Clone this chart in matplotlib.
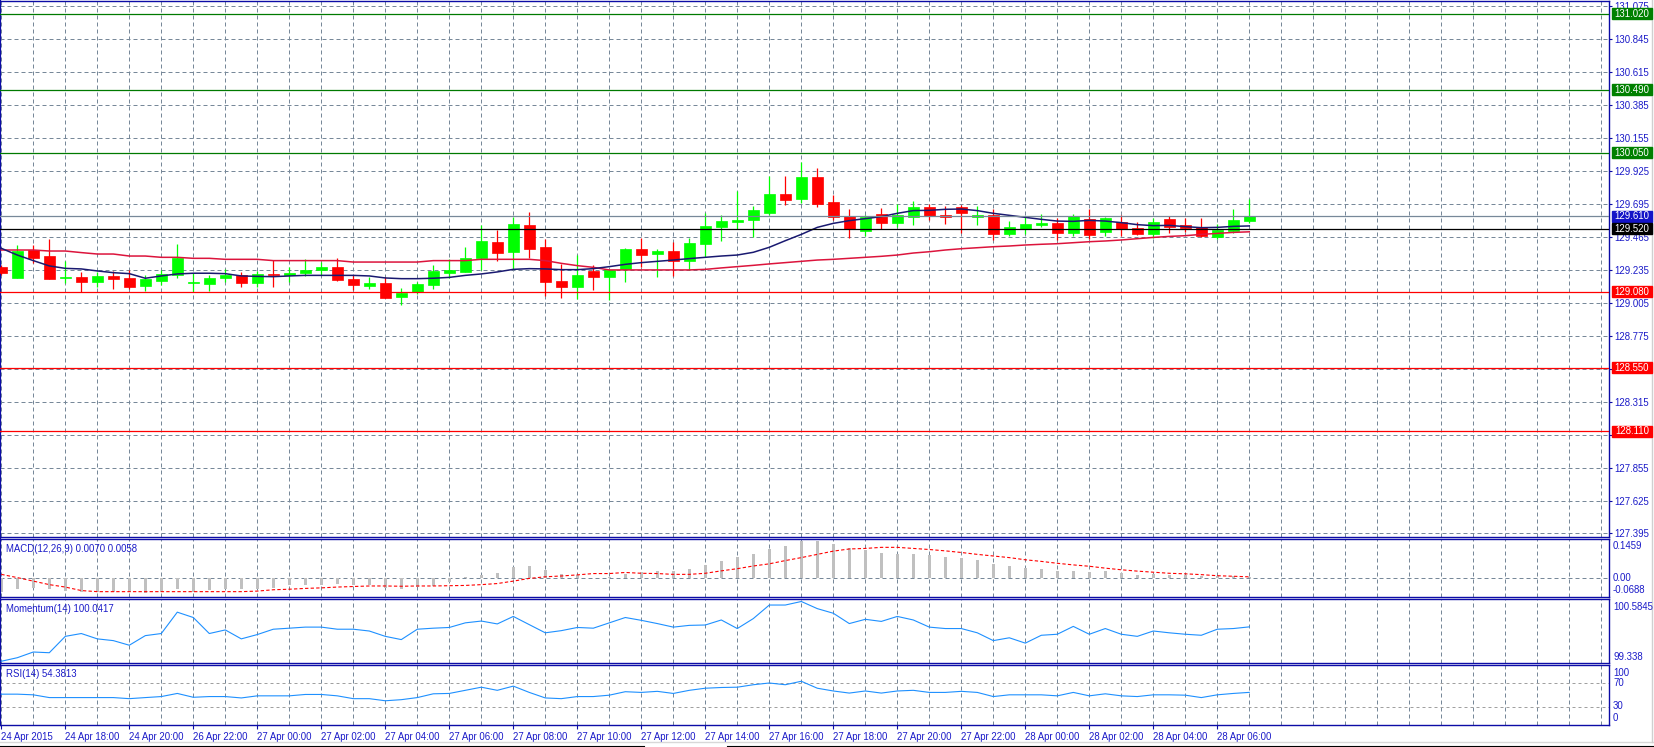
import numpy as np
import matplotlib
matplotlib.use("Agg")
from matplotlib import pyplot as plt
from matplotlib.patches import Rectangle
from matplotlib.lines import Line2D

W, H = 1654, 747

# USDJPY M30, 24 Apr 2015 16:00 .. 28 Apr 2015 07:00
opens = [129.254, 129.180, 129.371, 129.331, 129.180, 129.185, 129.152, 129.192, 129.180, 129.124,
         129.159, 129.199, 129.145, 129.138, 129.180, 129.196, 129.145, 129.206, 129.199, 129.215,
         129.236, 129.255, 129.171, 129.124, 129.143, 129.048, 129.078, 129.129, 129.215, 129.222,
         129.317, 129.429, 129.362, 129.548, 129.394, 129.157, 129.117, 129.227, 129.187, 129.241,
         129.380, 129.348, 129.366, 129.299, 129.417, 129.536, 129.571, 129.585, 129.634, 129.764,
         129.729, 129.883, 129.708, 129.611, 129.508, 129.624, 129.561, 129.606, 129.673, 129.617,
         129.673, 129.606, 129.617, 129.485, 129.517, 129.548, 129.562, 129.492, 129.589, 129.501,
         129.568, 129.527, 129.485, 129.589, 129.548, 129.534, 129.461, 129.508, 129.577]
highs = [129.268, 129.408, 129.408, 129.450, 129.296, 129.222, 129.222, 129.227, 129.234, 129.196,
         129.234, 129.415, 129.215, 129.196, 129.238, 129.222, 129.229, 129.301, 129.252, 129.310,
         129.290, 129.317, 129.199, 129.187, 129.182, 129.110, 129.152, 129.268, 129.308, 129.394,
         129.545, 129.513, 129.606, 129.638, 129.452, 129.278, 129.336, 129.266, 129.231, 129.385,
         129.457, 129.380, 129.429, 129.457, 129.629, 129.615, 129.787, 129.682, 129.889, 129.889,
         129.990, 129.945, 129.757, 129.659, 129.617, 129.666, 129.694, 129.715, 129.694, 129.680,
         129.685, 129.680, 129.659, 129.576, 129.611, 129.624, 129.594, 129.624, 129.659, 129.606,
         129.617, 129.568, 129.594, 129.611, 129.594, 129.597, 129.555, 129.659, 129.726]
lows = [129.199, 129.175, 129.280, 129.168, 129.141, 129.078, 129.117, 129.099, 129.103, 129.089,
        129.126, 129.180, 129.078, 129.089, 129.148, 129.113, 129.113, 129.117, 129.148, 129.194,
        129.199, 129.159, 129.094, 129.103, 129.036, 128.992, 129.066, 129.103, 129.175, 129.222,
        129.234, 129.299, 129.238, 129.315, 129.055, 129.041, 129.034, 129.096, 129.027, 129.152,
        129.252, 129.187, 129.194, 129.234, 129.327, 129.438, 129.520, 129.462, 129.620, 129.689,
        129.703, 129.673, 129.582, 129.459, 129.471, 129.517, 129.531, 129.548, 129.582, 129.555,
        129.489, 129.545, 129.443, 129.471, 129.485, 129.534, 129.443, 129.471, 129.447, 129.471,
        129.471, 129.480, 129.459, 129.494, 129.501, 129.466, 129.447, 129.494, 129.559]
closes = [129.215, 129.366, 129.320, 129.173, 129.185, 129.152, 129.192, 129.171, 129.117, 129.168,
          129.206, 129.320, 129.150, 129.178, 129.199, 129.145, 129.206, 129.199, 129.213, 129.234,
          129.255, 129.166, 129.131, 129.143, 129.041, 129.073, 129.136, 129.227, 129.234, 129.317,
          129.436, 129.355, 129.557, 129.380, 129.152, 129.117, 129.199, 129.187, 129.231, 129.380,
          129.341, 129.366, 129.299, 129.422, 129.541, 129.575, 129.583, 129.652, 129.764, 129.724,
          129.883, 129.694, 129.606, 129.520, 129.604, 129.564, 129.617, 129.673, 129.613, 129.606,
          129.634, 129.617, 129.485, 129.534, 129.555, 129.562, 129.492, 129.608, 129.478, 129.597,
          129.520, 129.485, 129.568, 129.534, 129.527, 129.471, 129.512, 129.583, 129.610]

ma_fast = [129.385, 129.338, 129.299, 129.262, 129.245, 129.241, 129.227, 129.215, 129.208, 129.176,
           129.192, 129.206, 129.211, 129.211, 129.208, 129.192, 129.189, 129.187, 129.192, 129.196,
           129.196, 129.196, 129.196, 129.192, 129.178, 129.173, 129.173, 129.176, 129.182, 129.196,
           129.206, 129.220, 129.238, 129.243, 129.241, 129.236, 129.236, 129.243, 129.257, 129.273,
           129.285, 129.294, 129.303, 129.313, 129.322, 129.331, 129.338, 129.357, 129.392, 129.438,
           129.482, 129.531, 129.559, 129.578, 129.592, 129.606, 129.629, 129.648, 129.650, 129.657,
           129.659, 129.648, 129.629, 129.615, 129.601, 129.587, 129.575, 129.573, 129.580, 129.575,
           129.564, 129.550, 129.543, 129.545, 129.536, 129.529, 129.531, 129.538, 129.541]
ma_slow = [129.373, 129.373, 129.373, 129.366, 129.366, 129.355, 129.345, 129.345, 129.331, 129.331,
           129.322, 129.322, 129.315, 129.315, 129.308, 129.308, 129.308, 129.299, 129.299, 129.299,
           129.299, 129.299, 129.289, 129.289, 129.289, 129.289, 129.289, 129.299, 129.299, 129.299,
           129.308, 129.308, 129.308, 129.308, 129.299, 129.280, 129.264, 129.252, 129.234, 129.234,
           129.234, 129.234, 129.234, 129.234, 129.238, 129.248, 129.257, 129.266, 129.276, 129.285,
           129.294, 129.303, 129.308, 129.315, 129.322, 129.329, 129.338, 129.352, 129.361, 129.373,
           129.382, 129.389, 129.396, 129.401, 129.408, 129.413, 129.417, 129.424, 129.431, 129.436,
           129.443, 129.452, 129.461, 129.468, 129.473, 129.482, 129.489, 129.496, 129.500]

macd_main = [-0.051, -0.041, -0.036, -0.041, -0.046, -0.049, -0.051, -0.051, -0.051, -0.054,
             -0.051, -0.038, -0.049, -0.042, -0.038, -0.038, -0.038, -0.035, -0.026, -0.023,
             -0.026, -0.019, -0.026, -0.023, -0.036, -0.041, -0.032, -0.028, -0.012, 0.004,
             0.013, 0.019, 0.043, 0.047, 0.032, 0.017, 0.013, 0.003, 0.006, 0.017,
             0.023, 0.028, 0.028, 0.036, 0.051, 0.066, 0.078, 0.089, 0.109, 0.120,
             0.139, 0.139, 0.128, 0.112, 0.106, 0.093, 0.089, 0.089, 0.086, 0.078,
             0.074, 0.070, 0.055, 0.047, 0.040, 0.036, 0.028, 0.028, 0.023, 0.026,
             0.019, 0.014, 0.018, 0.014, 0.014, 0.010, 0.009, 0.008, 0.0070]
macd_signal = [0.015, 0.003, -0.010, -0.023, -0.032, -0.045, -0.049, -0.049, -0.049, -0.049,
               -0.049, -0.049, -0.049, -0.049, -0.049, -0.049, -0.047, -0.042, -0.040, -0.037,
               -0.035, -0.032, -0.030, -0.028, -0.028, -0.029, -0.028, -0.028, -0.027, -0.026,
               -0.023, -0.019, -0.010, 0.000, 0.006, 0.009, 0.013, 0.018, 0.018, 0.022,
               0.019, 0.018, 0.015, 0.015, 0.019, 0.028, 0.036, 0.046, 0.054, 0.066,
               0.077, 0.089, 0.101, 0.109, 0.111, 0.115, 0.115, 0.111, 0.107, 0.102,
               0.096, 0.089, 0.083, 0.077, 0.069, 0.063, 0.056, 0.050, 0.045, 0.038,
               0.032, 0.027, 0.023, 0.019, 0.017, 0.014, 0.010, 0.008, 0.0058]
momentum = [99.372, 99.441, 99.552, 99.538, 99.857, 99.912, 99.808, 99.774, 99.684, 99.871,
            99.912, 100.328, 100.224, 99.912, 99.982, 99.808, 99.892, 99.996, 100.016, 100.037,
            100.037, 99.996, 99.996, 99.961, 99.857, 99.794, 99.996, 100.016, 100.030, 100.120,
            100.155, 100.099, 100.245, 100.085, 99.926, 99.968, 100.030, 100.016, 100.120, 100.224,
            100.169, 100.106, 100.037, 100.071, 100.078, 100.176, 100.009, 100.203, 100.467, 100.467,
            100.536, 100.397, 100.307, 100.106, 100.189, 100.148, 100.245, 100.176, 100.037, 100.009,
            100.009, 99.926, 99.774, 99.829, 99.725, 99.878, 99.898, 100.051, 99.898, 100.009,
            99.898, 99.857, 99.961, 99.926, 99.898, 99.878, 99.996, 100.009, 100.0417]
rsi = [51.4, 51.4, 50.3, 45.7, 45.7, 45.7, 45.7, 45.7, 43.9, 45.7,
       47.4, 52.6, 46.2, 47.4, 47.4, 45.1, 48.6, 48.6, 48.6, 50.9,
       50.9, 48.6, 43.9, 43.9, 40.4, 42.2, 45.7, 52.0, 52.6, 57.8,
       63.0, 57.8, 64.8, 54.3, 45.1, 43.9, 47.4, 47.4, 49.7, 55.5,
       54.3, 56.1, 52.6, 57.8, 61.3, 62.5, 63.0, 67.1, 70.0, 67.1,
       72.9, 61.3, 56.7, 53.2, 56.7, 53.2, 56.7, 57.8, 54.3, 54.3,
       56.1, 54.3, 47.4, 50.3, 50.3, 50.3, 48.6, 54.3, 48.6, 52.0,
       48.6, 47.4, 50.3, 50.3, 49.7, 45.7, 50.3, 52.6, 54.3813]

level_values = [131.020, 130.490, 130.050, 129.610, 129.520, 129.080, 128.550, 128.110]
level_kinds = ["res", "res", "res", "bid", "pivot", "sup", "sup", "sup"]

price_ticks = [127.395, 127.625, 127.855, 128.085, 128.315, 128.545, 128.775, 129.005, 129.235,
               129.465, 129.695, 129.925, 130.155, 130.385, 130.615, 130.845, 131.075]
price_range = (127.3703, 131.1107)
macd_range = (-0.0688, 0.1459)
momentum_range = (99.338, 100.5845)

time_ticks = [0, 4, 8, 12, 16, 20, 24, 28, 32, 36, 40, 44, 48, 52, 56, 60, 64, 68, 72, 76]
time_labels = ["24 Apr 2015", "24 Apr 18:00", "24 Apr 20:00", "26 Apr 22:00", "27 Apr 00:00",
               "27 Apr 02:00", "27 Apr 04:00", "27 Apr 06:00", "27 Apr 08:00", "27 Apr 10:00",
               "27 Apr 12:00", "27 Apr 14:00", "27 Apr 16:00", "27 Apr 18:00", "27 Apr 20:00",
               "27 Apr 22:00", "28 Apr 00:00", "28 Apr 02:00", "28 Apr 04:00", "28 Apr 06:00"]

# colours
BORDER = "#0C0CA6"
TEXT = "#1A1AC8"
GRID = "#778899"
LEVEL_LINE = {"res": "#007A00", "bid": "#778899", "pivot": "#000000", "sup": "#FF0000"}
LEVEL_BOX = {"res": "#008000", "bid": "#1414C8", "pivot": "#000000", "sup": "#FF0000"}

plt.rcParams["font.family"] = ["Liberation Sans", "DejaVu Sans"]
plt.rcParams["font.size"] = 6.9

fig = plt.figure(figsize=(W / 100, H / 100), dpi=100)
fig.patch.set_facecolor("white")


def rect(x0, y0, x1, y1):
    return [x0 / W, 1 - y1 / H, (x1 - x0) / W, (y1 - y0) / H]


def ptext(x, y, s, **kw):
    kw.setdefault("color", TEXT)
    fig.text(x / W, 1 - y / H, s, **kw)


def setup_pane(ax, ylim):
    ax.set_xlim(-1.3 / 16, (1609 - 1.3) / 16)
    ax.set_ylim(*ylim)
    for sp in ax.spines.values():
        sp.set_color(BORDER)
        sp.set_linewidth(1.0)
    ax.spines["left"].set_linewidth(1.6)
    ax.tick_params(bottom=False, labelbottom=False, left=False, labelleft=False)
    for gx in range(0, 101, 2):
        ax.axvline(gx, color=GRID, lw=0.72, ls=(0, (4, 3)), zorder=0)


ax_main = fig.add_axes(rect(0, 1, 1609, 537))
ax_macd = fig.add_axes(rect(0, 539, 1609, 597))
ax_mom = fig.add_axes(rect(0, 599, 1609, 663))
ax_rsi = fig.add_axes(rect(0, 665, 1609, 725))

for a, yl in [(ax_main, price_range), (ax_macd, macd_range), (ax_mom, momentum_range), (ax_rsi, (0, 100))]:
    setup_pane(a, yl)

# ---- main price pane
x = np.arange(len(opens))
o = np.array(opens)
c = np.array(closes)
candle_colors = np.where(c >= o, "#00FF00", "#FF0000")

for py in price_ticks:
    ax_main.axhline(py, color=GRID, lw=0.72, ls=(0, (4, 3)), zorder=0)

ax_main.vlines(x, lows, highs, colors=candle_colors, lw=0.9, zorder=2)
ax_main.bar(x, np.abs(c - o), bottom=np.minimum(o, c), width=0.69,
            color=candle_colors, edgecolor=candle_colors, linewidth=0.5, zorder=3)

ax_main.plot(x, ma_slow, color="#DC143C", lw=1.1, zorder=4)
ax_main.plot(x, ma_fast, color="#191970", lw=1.1, zorder=4)

for v, k in zip(level_values, level_kinds):
    ax_main.axhline(v, color=LEVEL_LINE[k], lw=0.9, zorder=5)

# price labels hidden under a level box are left blank, as on the terminal
tick_text = []
for p in price_ticks:
    covered = any(abs(p - v) < 0.03 and v < 129.5 for v in level_values)
    tick_text.append("" if covered else f"{p:.3f}")

ax_main.yaxis.tick_right()
ax_main.tick_params(right=True, labelright=True, direction="out", length=2.5,
                    color=BORDER, labelcolor=TEXT, pad=1.5)
ax_main.set_yticks(price_ticks)
ax_main.set_yticklabels(tick_text)

fig.canvas.draw()
for v, k in zip(level_values, level_kinds):
    yd = ax_main.transData.transform((0, v))[1]
    fig.patches.append(Rectangle((1612 / W, (yd - 5.5) / H), 40 / W, 11 / H,
                                 transform=fig.transFigure, color=LEVEL_BOX[k], zorder=10))
    fig.text(1632 / W, yd / H, f"{v:.3f}", ha="center", va="center",
             color="white", zorder=11)

# ---- MACD pane
ax_macd.axhline(0, color=GRID, lw=0.72, ls=(0, (4, 3)), zorder=0)
ax_macd.bar(x, macd_main, width=0.17, color="#C0C0C0", zorder=2)
ax_macd.plot(x, macd_signal, color="#FF0000", lw=0.8, ls=(0, (3, 2)), zorder=3)
ptext(6, 548.7, f"MACD(12,26,9) {macd_main[-1]:.4f} {macd_signal[-1]:.4f}", ha="left", va="center")
ptext(1613, 546, "0.1459", ha="left", va="center")
ptext(1613, 578.3, "0.00", ha="left", va="center")
ptext(1613, 590, "-0.0688", ha="left", va="center")

# ---- Momentum pane
ax_mom.plot(x, momentum, color="#1E90FF", lw=0.8, zorder=3)
ptext(6, 608.7, f"Momentum(14) {momentum[-1]:.4f}", ha="left", va="center")
ptext(1613, 606.7, "100.5845", ha="left", va="center")
ptext(1613, 656.7, "99.338", ha="left", va="center")

# ---- RSI pane
for lv in (70, 30):
    ax_rsi.axhline(lv, color="#A0A0A0", lw=0.72, ls=(0, (3, 3)), zorder=0)
ax_rsi.plot(x, rsi, color="#1E90FF", lw=0.8, zorder=3)
ptext(6, 674.3, f"RSI(14) {rsi[-1]:.4f}", ha="left", va="center")
for s, yy in [("100", 672.7), ("70", 683.3), ("30", 706), ("0", 718.3)]:
    ptext(1613, yy, s, ha="left", va="center")

ax_rsi.set_xticks(time_ticks)
ax_rsi.set_xticklabels(time_labels, ha="left")
ax_rsi.tick_params(bottom=True, labelbottom=True, direction="out", length=3,
                   color=BORDER, labelcolor=TEXT, pad=2)

# window bottom / tab strip
fig.add_artist(Line2D([0, 1], [1 - 742 / H] * 2, color="#D8D8D8", lw=1.0))
fig.add_artist(Line2D([0, 644 / W], [1 - 745.5 / H] * 2, color="black", lw=0.8))
fig.add_artist(Line2D([727 / W, 1], [1 - 745.5 / H] * 2, color="black", lw=0.8))
fig.add_artist(Line2D([1652 / W] * 2, [1 - 742 / H, 1], color="#D0D0D0", lw=1.0))

fig.savefig("out.png", dpi=100, facecolor="white")
